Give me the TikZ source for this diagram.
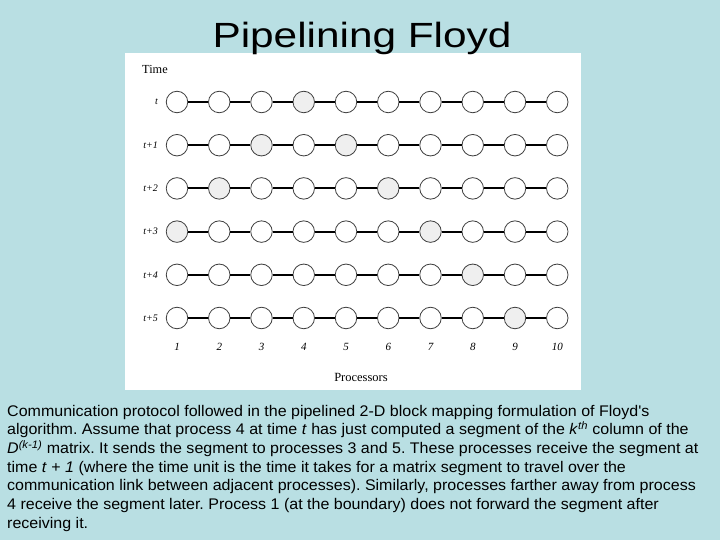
\documentclass[tikz,border=0pt]{standalone}
\usepackage{fontspec}
\setmainfont{Liberation Serif}
\newfontfamily\titlefont[FakeStretch=1.21]{Liberation Sans}
\newfontfamily\bodyfont[FakeStretch=1.04]{Liberation Sans}
\definecolor{bg}{HTML}{B9DFE3}
\definecolor{shadegray}{HTML}{EFEFEF}
\definecolor{ringgray}{HTML}{404040}
\tikzset{
  proc/.style={circle, draw=ringgray, line width=0.8pt, minimum size=21.5pt, inner sep=0pt, fill=white},
  shaded/.style={fill=shadegray},
  plain/.style={},
  link/.style={line width=2pt, black},
  rowlabel/.style={anchor=east, inner sep=0pt, font=\fontsize{10}{12}\selectfont\itshape},
  numlabel/.style={anchor=center, inner sep=0pt, font=\fontsize{11}{13}\selectfont\itshape},
  bodyline/.style={anchor=base west, inner sep=0pt, font=\bodyfont\fontsize{15.4}{18}\selectfont\frenchspacing},
}
\begin{document}
\begin{tikzpicture}[x=1pt,y=-1pt]
\useasboundingbox (0,0) rectangle (720,540);
\fill[bg] (0,0) rectangle (720,540);
\fill[white] (125,53) rectangle (581,390);
\node[anchor=base, inner sep=0pt] (title) at (362,48) {\titlefont\fontsize{35}{42}\selectfont Pipelining Floyd};
\node[anchor=west, inner sep=0pt, font=\fontsize{12.3}{14}\selectfont] (time) at (142,69) {Time};
\foreach \r/\lab in {0/t,1/t+1,2/t+2,3/t+3,4/t+4,5/t+5}{
  \node[rowlabel] (lab\r) at (158,{102+43.2*\r}) {\lab};
  \foreach \c in {1,...,10}{
    \pgfmathtruncatemacro\d{abs(\c-4)}
    \ifnum\d=\r \def\f{shaded}\else\def\f{plain}\fi
    \node[proc,\f] (p-\r-\c) at ({177+42.25*(\c-1)},{102+43.2*\r}) {};
  }
  \foreach \c [evaluate=\c as \n using int(\c+1)] in {1,...,9}{
    \draw[link] (p-\r-\c) -- (p-\r-\n);
  }
}
\foreach \c in {1,...,10}{
  \node[numlabel] (num\c) at ({177+42.25*(\c-1)},347) {\c};
}
\node[inner sep=0pt, font=\fontsize{12.5}{14}\selectfont] (procs) at (361,377) {Processors};
\node[bodyline] (l1) at (7,416) {Communication protocol followed in the pipelined 2-D block mapping formulation of Floyd's};
\node[bodyline] (l2) at (7,434.7) {algorithm. Assume that process 4 at time \textit{t} has just computed a segment of the \textit{k}\textsuperscript{\itshape th} column of the};
\node[bodyline] (l3) at (7,453.3) {\textit{D}\textsuperscript{\itshape (k-1)} matrix. It sends the segment to processes 3 and 5. These processes receive the segment at};
\node[bodyline] (l4) at (7,472) {time \textit{t} + \textit{1} (where the time unit is the time it takes for a matrix segment to travel over the};
\node[bodyline] (l5) at (7,490.7) {communication link between adjacent processes). Similarly, processes farther away from process};
\node[bodyline] (l6) at (7,509.3) {4 receive the segment later. Process 1 (at the boundary) does not forward the segment after};
\node[bodyline] (l7) at (7,528) {receiving it.};
\end{tikzpicture}
\end{document}
